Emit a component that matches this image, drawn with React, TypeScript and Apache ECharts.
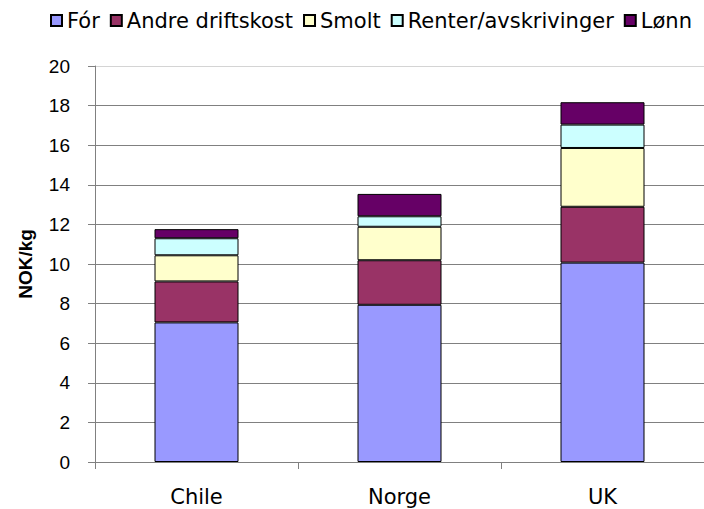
import React, { useEffect, useRef } from "react";
import * as echarts from "echarts";

const categories = ["Chile", "Norge", "UK"];
const seriesNames = ["Fór", "Andre driftskost", "Smolt", "Renter/avskrivinger", "Lønn"];
const forValues = [7.05, 7.94, 10.07];
const andreValues = [2.07, 2.25, 2.82];
const smoltValues = [1.32, 1.69, 2.97];
const renterValues = [0.86, 0.53, 1.18];
const lonnValues = [0.46, 1.13, 1.13];
const seriesColors = ["#9999FF", "#993366", "#FFFFCC", "#CCFFFF", "#660066"];
const yTicks = { min: 0, max: 20, interval: 2 };

export default function App() {
  const ref = useRef<HTMLDivElement>(null);
  useEffect(() => {
    if (!ref.current) return;
    const chart = echarts.init(ref.current, undefined, { renderer: "svg" });
    const values = [forValues, andreValues, smoltValues, renterValues, lonnValues];
    const font = "'Liberation Sans', Arial, sans-serif";
    const wideFont = "'DejaVu Sans', 'Liberation Sans', sans-serif";
    const gridColors = Array.from({ length: 11 }, (_, i) => (i === 10 ? "#d4d4d4" : "#808080"));
    chart.setOption({
      animation: false,
      backgroundColor: "#ffffff",
      textStyle: { fontFamily: font },
      legend: {
        top: 5,
        left: 45,
        itemWidth: 11,
        itemHeight: 11,
        itemGap: 10,
        icon: "rect",
        textStyle: { fontSize: 21, color: "#000", fontFamily: wideFont },
        data: seriesNames,
      },
      grid: { left: 95, top: 66, width: 617, height: 396, containLabel: false },
      xAxis: {
        type: "category",
        data: categories,
        axisLine: { lineStyle: { color: "#808080", width: 1 } },
        axisTick: { show: true, length: 7, lineStyle: { color: "#808080" } },
        axisLabel: { fontSize: 21, color: "#000", margin: 24, fontFamily: wideFont },
      },
      yAxis: {
        type: "value",
        min: yTicks.min,
        max: yTicks.max,
        interval: yTicks.interval,
        name: "NOK/kg",
        nameLocation: "middle",
        nameGap: 60,
        nameTextStyle: { fontSize: 19, fontWeight: "bold", color: "#000", fontFamily: font },
        axisLine: { show: true, lineStyle: { color: "#808080", width: 1 } },
        axisTick: { show: true, length: 7, lineStyle: { color: "#808080" } },
        axisLabel: { fontSize: 19, color: "#000", margin: 25, fontFamily: font },
        splitLine: { show: true, lineStyle: { color: gridColors, width: 1 } },
      },
      series: seriesNames.map((name, i) => ({
        name,
        type: "bar",
        stack: "total",
        barWidth: 84,
        data: values[i],
        itemStyle: { color: seriesColors[i], borderColor: "#000", borderWidth: 1 },
      })),
    });
    return () => chart.dispose();
  }, []);
  return (
    <div
      ref={ref}
      style={{ position: "fixed", left: 0, top: 0, width: 704, height: 509 }}
    />
  );
}
